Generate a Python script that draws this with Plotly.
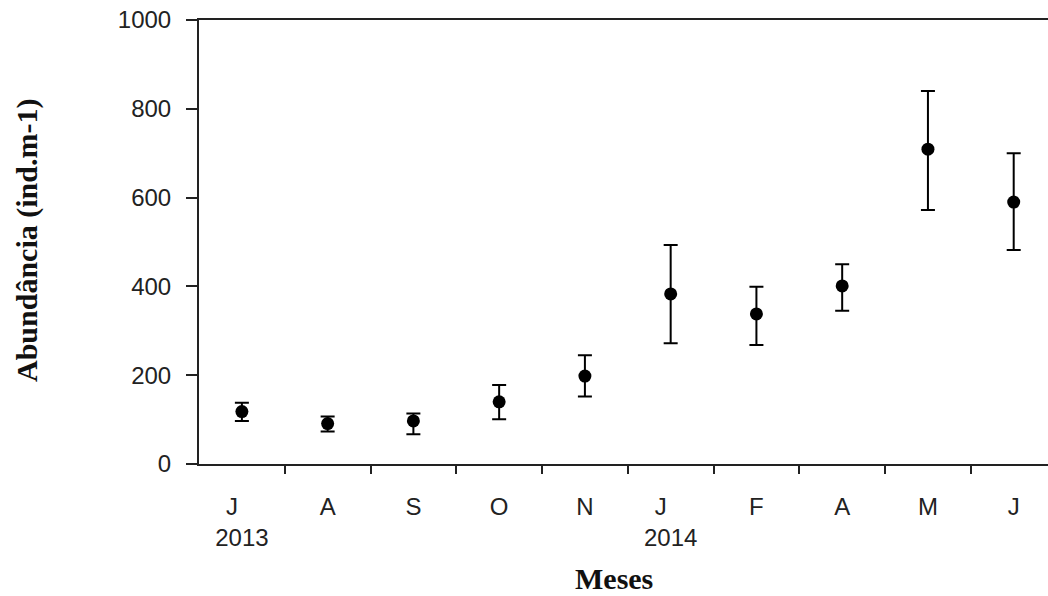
import plotly.graph_objects as go

months = ["J", "A", "S", "O", "N", "J", "F", "A", "M", "J"]
years = ["2013", "", "", "", "", "2014", "", "", "", ""]
abundance = [118, 91, 97, 140, 198, 383, 338, 401, 709, 590]
err_upper = [20, 16, 17, 38, 47, 110, 61, 49, 131, 110]
err_lower = [21, 18, 30, 39, 46, 111, 70, 56, 137, 108]
y_ticks = [0, 200, 400, 600, 800, 1000]

x_idx = list(range(len(months)))
boundaries = [i + 0.5 for i in range(len(months) - 1)]
tick_text = []
for m, yv in zip(months, years):
    if yv:
        tick_text.append(m + "\u00a0\u00a0\u00a0<br>" + yv)
    else:
        tick_text.append(m)

fig = go.Figure()
fig.add_trace(go.Scatter(
    x=x_idx, y=abundance, mode="markers",
    marker=dict(color="black", size=13, symbol="circle"),
    error_y=dict(type="data", symmetric=False, array=err_upper, arrayminus=err_lower,
                 color="black", thickness=2, width=7),
    showlegend=False, xaxis="x", yaxis="y",
))
# invisible trace to anchor the label axis
fig.add_trace(go.Scatter(x=x_idx, y=abundance, mode="markers", marker=dict(opacity=0),
                         showlegend=False, hoverinfo="skip", xaxis="x2", yaxis="y"))

axis_color = "#222222"
tick_font = dict(family="Liberation Sans, Arial, sans-serif", size=24, color="#222222")
title_font = dict(family="Liberation Serif, Times New Roman, serif", size=30, color="#111111")

fig.update_layout(
    width=1048, height=596,
    margin=dict(l=199, r=0, t=20, b=132),
    plot_bgcolor="white", paper_bgcolor="white",
    xaxis=dict(
        range=[-0.5, 9.4], showgrid=False, zeroline=False,
        showline=True, linecolor=axis_color, linewidth=2, mirror=True,
        tickmode="array", tickvals=boundaries, ticktext=[""] * len(boundaries),
        ticks="outside", ticklen=8, tickwidth=2, tickcolor=axis_color,
    ),
    xaxis2=dict(
        range=[-0.5, 9.4], overlaying="x", side="bottom", anchor="y",
        showgrid=False, zeroline=False, showline=False,
        tickmode="array", tickvals=x_idx, ticktext=tick_text,
        ticks="", tickfont=tick_font, ticklabelstandoff=26,
    ),
    yaxis=dict(
        range=[0, 1000], showgrid=False, zeroline=False,
        showline=True, linecolor=axis_color, linewidth=2,
        tickmode="array", tickvals=y_ticks, ticktext=[str(v) for v in y_ticks],
        ticks="outside", ticklen=11, tickwidth=2, tickcolor=axis_color,
        tickfont=tick_font, ticklabelstandoff=10,
    ),
    annotations=[
        dict(text="<b>Abundância (ind.m-1)</b>", xref="paper", yref="paper",
             x=-0.2026, y=0.5045, xanchor="center", yanchor="middle",
             textangle=-90, showarrow=False, font=title_font),
        dict(text="<b>Meses</b>", xref="paper", yref="paper",
             x=0.489, y=-0.257, xanchor="center", yanchor="middle",
             showarrow=False, font=title_font),
    ],
)

fig.write_html("out.html")
